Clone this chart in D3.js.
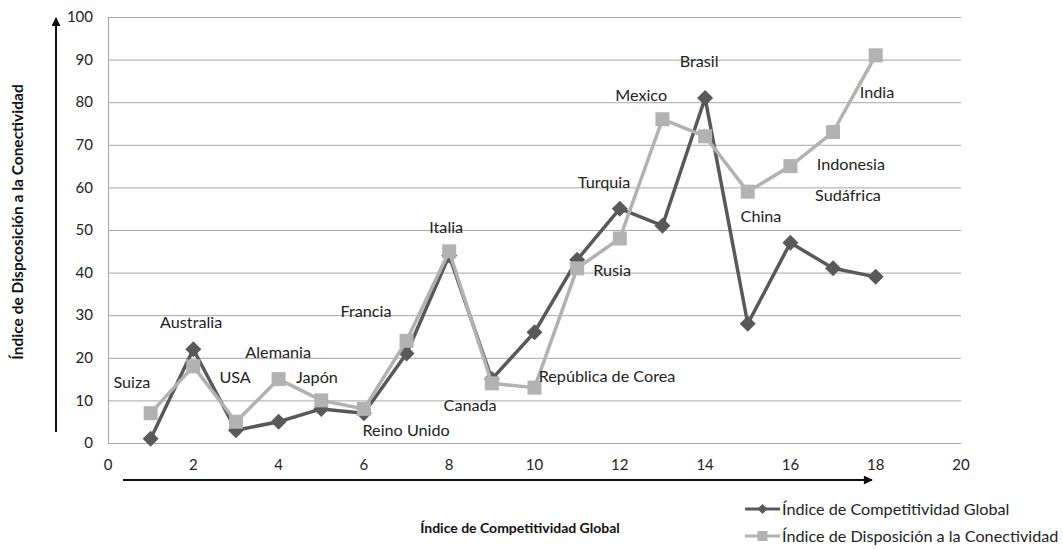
<!DOCTYPE html>
<html>
<head>
<meta charset="utf-8">
<script src="https://cdn.jsdelivr.net/npm/d3@7"></script>
<style>
  html, body { margin: 0; padding: 0; background: #fff; }
  svg { display: block; font-family: Lato, "Open Sans", sans-serif; }
</style>
</head>
<body>
<svg id="chart" width="1063" height="550"></svg>
<script>
// Ranking position of each country
const positions = [1, 2, 3, 4, 5, 6, 7, 8, 9, 10, 11, 12, 13, 14, 15, 16, 17, 18];
const countries = ["Suiza", "Australia", "USA", "Alemania", "Japón", "Reino Unido", "Francia", "Italia",
  "Canada", "República de Corea", "Rusia", "Turquia", "Mexico", "Brasil", "China", "Sudáfrica",
  "Indonesia", "India"];
// Índice de Competitividad Global
const competitividad = [1, 22, 3, 5, 8, 7, 21, 44, 15, 26, 43, 55, 51, 81, 28, 47, 41, 39];
// Índice de Disposición a la Conectividad
const conectividad = [7, 18, 5, 15, 10, 8, 24, 45, 14, 13, 41, 48, 76, 72, 59, 65, 73, 91];
// Where each country name sits, in axis units
const labelX = [0.56, 1.95, 2.98, 3.99, 4.9, 6.99, 6.05, 7.93, 8.49, 11.7, 11.82, 11.63, 12.5, 13.86, 15.31, 17.35, 17.42, 18.03];
const labelY = [14.3, 28.4, 15.5, 21.4, 15.5, 3.0, 30.8, 50.7, 8.9, 15.7, 40.6, 61.3, 81.5, 89.7, 53.3, 58.2, 65.5, 82.4];
const xTicks = [0, 2, 4, 6, 8, 10, 12, 14, 16, 18, 20];
const yTicks = [0, 10, 20, 30, 40, 50, 60, 70, 80, 90, 100];

const svg = d3.select("#chart");
const plotLeft = 108, plotRight = 961, plotTop = 17, plotBottom = 443;

const x = d3.scaleLinear().domain([0, 20]).range([plotLeft, plotRight]);
const y = d3.scaleLinear().domain([0, 100]).range([plotBottom, plotTop]);

const defs = svg.append("defs");
const blur = defs.append("filter").attr("id", "shadow").attr("x", "-10%").attr("y", "-50%").attr("width", "120%").attr("height", "300%");
blur.append("feGaussianBlur").attr("stdDeviation", 1.6);
defs.append("marker").attr("id", "arrow").attr("viewBox", "0 0 10 10").attr("refX", 9).attr("refY", 5)
  .attr("markerWidth", 10).attr("markerHeight", 9).attr("markerUnits", "userSpaceOnUse").attr("orient", "auto")
  .append("path").attr("d", "M0,0 L10,5 L0,10 Z").attr("fill", "#111");

// Horizontal gridlines
svg.append("g").selectAll("line").data(yTicks).join("line")
  .attr("x1", plotLeft).attr("x2", plotRight)
  .attr("y1", d => y(d) + 0.5).attr("y2", d => y(d) + 0.5)
  .attr("stroke", "#a6a6a6").attr("stroke-width", 1);
// Left frame line
svg.append("line").attr("x1", plotLeft + 0.5).attr("x2", plotLeft + 0.5).attr("y1", plotTop).attr("y2", plotBottom)
  .attr("stroke", "#a6a6a6");

// Tick labels
svg.append("g").selectAll("text").data(yTicks).join("text")
  .attr("x", plotLeft - 15).attr("y", d => y(d)).attr("dy", "0.35em")
  .attr("text-anchor", "end").attr("font-size", 15).attr("fill", "#222").text(d => d);
svg.append("g").selectAll("text").data(xTicks).join("text")
  .attr("x", d => x(d)).attr("y", 470)
  .attr("text-anchor", "middle").attr("font-size", 15).attr("fill", "#222").text(d => d);

// Axis arrows with a soft shadow
svg.append("line").attr("x1", 59).attr("y1", 444).attr("x2", 59).attr("y2", 22)
  .attr("stroke", "#bbb").attr("stroke-width", 2).attr("filter", "url(#shadow)");
svg.append("line").attr("x1", 56).attr("y1", 432).attr("x2", 56).attr("y2", 18)
  .attr("stroke", "#111").attr("stroke-width", 2).attr("marker-end", "url(#arrow)");
svg.append("line").attr("x1", 125).attr("y1", 484).attr("x2", 872).attr("y2", 484)
  .attr("stroke", "#bbb").attr("stroke-width", 2.5).attr("filter", "url(#shadow)");
svg.append("line").attr("x1", 123).attr("y1", 480).attr("x2", 872).attr("y2", 480)
  .attr("stroke", "#111").attr("stroke-width", 2).attr("marker-end", "url(#arrow)");

// Axis titles
svg.append("text").attr("transform", "translate(23,222) rotate(-90)")
  .attr("text-anchor", "middle").attr("font-size", 15.5).attr("font-weight", "bold").attr("fill", "#111")
  .text("Índice de Dispcosición a la Conectividad");
svg.append("text").attr("x", 520).attr("y", 533)
  .attr("text-anchor", "middle").attr("font-size", 14).attr("font-weight", "bold").attr("fill", "#111")
  .text("Índice de Competitividad Global");

const line = d3.line().x(d => x(d[0])).y(d => y(d[1]));
const darkCol = "#595959", lightCol = "#b2b2b2";
const compPts = positions.map((p, i) => [p, competitividad[i]]);
const conPts = positions.map((p, i) => [p, conectividad[i]]);

// Competitividad series (diamonds)
svg.append("path").datum(compPts).attr("d", line)
  .attr("fill", "none").attr("stroke", darkCol).attr("stroke-width", 3.5).attr("stroke-linejoin", "round");
svg.append("g").selectAll("path").data(compPts).join("path")
  .attr("transform", d => `translate(${x(d[0])},${y(d[1])})`)
  .attr("d", "M0,-8 L8,0 L0,8 L-8,0 Z").attr("fill", darkCol);

// Conectividad series (squares)
svg.append("path").datum(conPts).attr("d", line)
  .attr("fill", "none").attr("stroke", lightCol).attr("stroke-width", 3.5).attr("stroke-linejoin", "round");
svg.append("g").selectAll("rect").data(conPts).join("rect")
  .attr("x", d => x(d[0]) - 7).attr("y", d => y(d[1]) - 7)
  .attr("width", 14).attr("height", 14).attr("fill", lightCol);

// Country names
svg.append("g").selectAll("text").data(countries).join("text")
  .attr("x", (d, i) => x(labelX[i])).attr("y", (d, i) => y(labelY[i])).attr("dy", "0.35em")
  .attr("text-anchor", "middle").attr("font-size", 16.2).attr("fill", "#222").text(d => d);

// Legend
const legend = [
  { name: "Índice de Competitividad Global", color: darkCol, shape: "diamond" },
  { name: "Índice de Disposición a la Conectividad", color: lightCol, shape: "square" }
];
const lg = svg.append("g").selectAll("g").data(legend).join("g")
  .attr("transform", (d, i) => `translate(745,${509 + i * 27})`);
lg.append("line").attr("x1", 0).attr("x2", 35).attr("stroke", d => d.color).attr("stroke-width", 3);
lg.filter(d => d.shape === "diamond").append("path").attr("d", "M17.5,-5 L22.5,0 L17.5,5 L12.5,0 Z").attr("fill", d => d.color);
lg.filter(d => d.shape === "square").append("rect").attr("x", 12.5).attr("y", -5).attr("width", 10).attr("height", 10).attr("fill", d => d.color);
lg.append("text").attr("x", 37).attr("dy", "0.35em").attr("font-size", 16.2).attr("fill", "#222").text(d => d.name);
</script>
</body>
</html>
